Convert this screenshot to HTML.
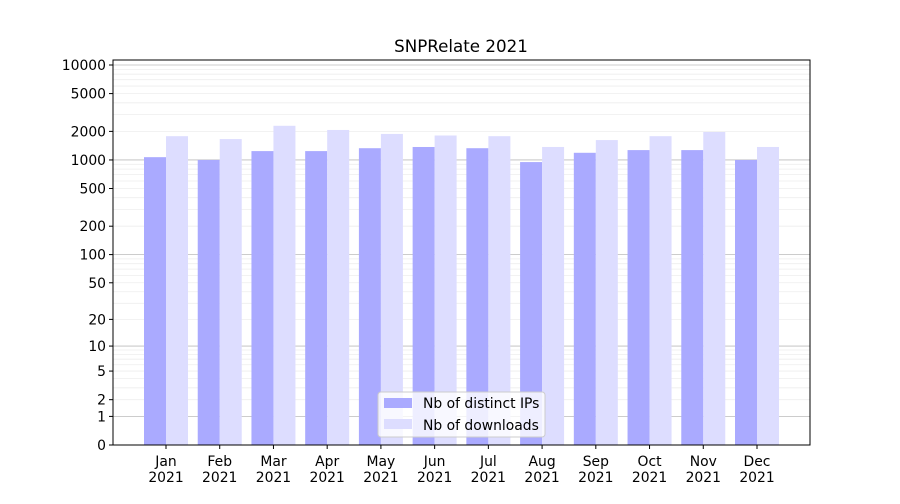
<!DOCTYPE html>
<html><head><meta charset="utf-8"><style>
body{margin:0;background:#fff;font-family:"DejaVu Sans","Liberation Sans",sans-serif;}
</style></head><body>
<svg id="chart" width="900" height="500" xmlns="http://www.w3.org/2000/svg" font-family="DejaVu Sans, Liberation Sans, sans-serif">
<rect width="900" height="500" fill="#fff"/>
<text x="461" y="52" text-anchor="middle" font-size="16.7">SNPRelate 2021</text>
<g id="grid"></g><g id="bars"></g><g id="axes"></g>
</svg>
<script>
const months=["Jan","Feb","Mar","Apr","May","Jun","Jul","Aug","Sep","Oct","Nov","Dec"];
const ips=[1070,1000,1240,1240,1330,1370,1330,950,1190,1270,1270,1000];
const downloads=[1780,1660,2290,2070,1880,1810,1780,1370,1620,1780,1970,1370];
const yTicks=[0,1,2,5,10,20,50,100,200,500,1000,2000,5000,10000];
const NS="http://www.w3.org/2000/svg";
const L=113,R=810,T=60,B=445;
function y(v){return B-95*Math.log10(1+v);}
function xc(i){return 166+i*(757-166)/11;}
function mk(tag,at,parent){const e=document.createElementNS(NS,tag);for(const k in at)e.setAttribute(k,at[k]);parent.appendChild(e);return e;}
const grid=document.getElementById('grid'),bars=document.getElementById('bars'),axes=document.getElementById('axes');
for(let d=1;d<=10000;d*=10){for(let m=1;m<10;m++){const v=d*m;if(v>10000)break;const gy=y(v);
 const ln=mk('line',{x1:L,x2:R,y1:gy,y2:gy,stroke:m==1?'#bbb':'#eee','stroke-width':0.8},grid);
 
 }}
months.forEach((m,i)=>{
 const a=mk('rect',{x:xc(i)-22,y:y(ips[i]),width:22,height:B-y(ips[i]),fill:'#aaaaff'},bars);
 
 
 const b=mk('rect',{x:xc(i),y:y(downloads[i]),width:22,height:B-y(downloads[i]),fill:'#ddddff'},bars);
 
 
 mk('line',{x1:xc(i),x2:xc(i),y1:B,y2:B+4,stroke:'#000'},axes);
 const t=mk('text',{x:xc(i),y:B+21,'text-anchor':'middle','font-size':13.9},axes);t.textContent=m;
 
 
 const t2=mk('text',{x:xc(i),y:B+37,'text-anchor':'middle','font-size':13.9},axes);t2.textContent='2021';
 
 
});
yTicks.forEach(v=>{const gy=y(v);
 mk('line',{x1:L-4,x2:L,y1:gy,y2:gy,stroke:'#000'},axes);
 const t=mk('text',{x:L-7,y:gy+5,'text-anchor':'end','font-size':13.9},axes);t.textContent=v;
 
 
});
const fr=mk('rect',{x:L,y:T,width:R-L,height:B-T,fill:'none',stroke:'#000','stroke-width':1},axes);


const lg=mk('g',{},axes);


mk('rect',{x:378,y:392,width:167,height:45,fill:'#fff','fill-opacity':0.8,stroke:'#ccc',rx:3},lg);
mk('rect',{x:384,y:398,width:28,height:10,fill:'#aaaaff'},lg);
mk('rect',{x:384,y:419,width:28,height:10,fill:'#ddddff'},lg);
const l1=mk('text',{x:423,y:408,'font-size':13.9},lg);l1.textContent='Nb of distinct IPs';


const l2=mk('text',{x:423,y:430,'font-size':13.9},lg);l2.textContent='Nb of downloads';


</script>
</body></html>
